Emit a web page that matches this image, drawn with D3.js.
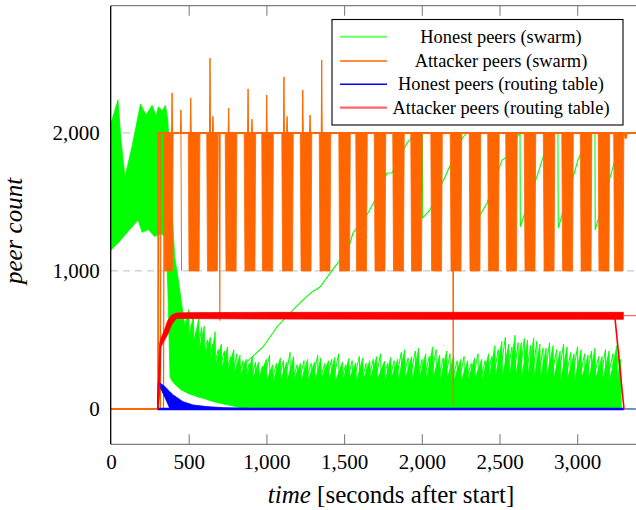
<!DOCTYPE html>
<html><head><meta charset="utf-8">
<script src="https://cdn.jsdelivr.net/npm/d3@7"></script>
<style>
body{margin:0;background:#fff}
svg{display:block}
text{font-family:"Liberation Serif","Times New Roman",serif;fill:#000}
</style>
</head><body>
<svg id="c" width="636" height="510"></svg>
<script>
// ---------------- DATA ----------------
const xTicks = [0, 500, 1000, 1500, 2000, 2500, 3000];
const yTicks = [0, 1000, 2000];
const seriesNames = ["Honest peers (swarm)", "Attacker peers (swarm)", "Honest peers (routing table)", "Attacker peers (routing table)"];

// Honest peers (swarm): top edge before the attack
const honestTopT = [0, 45, 64, 90, 135, 190, 225, 265, 290, 305, 330, 350, 365, 380, 395, 410, 430, 450, 475];
const honestTopV = [2070, 2240, 1950, 1680, 1900, 2210, 2130, 2200, 2120, 2190, 2160, 2200, 2100, 1800, 1400, 1100, 960, 800, 600];
// Honest peers (swarm): sawtooth peaks after the attack
const honestSpikeT = [
 500, 530, 565, 600, 640, 670, 710, 750, 790, 830,
 870, 910, 950, 1000, 1040, 1090, 1130, 1175, 1220, 1265,
 1310, 1350, 1400, 1440, 1490, 1530, 1575, 1620, 1665, 1710,
 1760, 1800, 1845, 1890, 1935, 1980, 2025, 2070, 2115, 2160,
 2205, 2250, 2295, 2340, 2385, 2430, 2470, 2515, 2560, 2600,
 2640, 2680, 2720, 2760, 2800, 2845, 2890, 2935, 2980, 3025,
 3070, 3115, 3160, 3205, 3255, 3280];
const honestSpikePeak = [
 720, 680, 660, 600, 520, 560, 470, 450, 430, 390,
 360, 380, 340, 360, 320, 370, 340, 380, 330, 360,
 340, 370, 350, 375, 340, 365, 335, 370, 350, 380,
 345, 375, 360, 430, 380, 440, 400, 450, 390, 420,
 380, 360, 350, 370, 360, 400, 460, 490, 470, 535,
 480, 500, 515, 470, 440, 460, 420, 450, 400, 430,
 390, 440, 380, 420, 460, 360];
const honestSpikeTrough = [
 520, 480, 430, 400, 350, 330, 300, 280, 260, 240,
 230, 220, 220, 210, 200, 210, 200, 220, 200, 210,
 200, 220, 210, 200, 210, 220, 200, 210, 220, 210,
 200, 220, 210, 220, 210, 220, 210, 230, 210, 220,
 210, 200, 210, 220, 210, 220, 230, 240, 230, 240,
 230, 240, 230, 220, 230, 220, 210, 220, 210, 220,
 210, 220, 210, 200, 200, 0];
// Honest peers (swarm): a second, interleaved set of peers
const honestSpike2T = [
 515, 548, 583, 620, 655, 690, 730, 770, 810, 850,
 890, 930, 975, 1020, 1065, 1110, 1152, 1198, 1242, 1288,
 1330, 1375, 1420, 1465, 1510, 1552, 1598, 1642, 1688, 1735,
 1780, 1822, 1868, 1912, 1958, 2002, 2048, 2092, 2138, 2182,
 2228, 2272, 2318, 2362, 2408, 2450, 2492, 2538, 2580, 2620,
 2660, 2700, 2740, 2780, 2822, 2868, 2912, 2958, 3002, 3048,
 3092, 3138, 3182, 3230, 3268];
const honestSpike2Peak = [
 610, 560, 590, 500, 470, 430, 420, 380, 400, 350,
 330, 340, 310, 390, 330, 350, 410, 320, 350, 330,
 390, 330, 360, 400, 320, 350, 380, 330, 360, 400,
 330, 350, 410, 370, 420, 360, 380, 430, 370, 400,
 350, 380, 330, 400, 350, 380, 430, 520, 450, 480,
 510, 460, 490, 440, 480, 430, 470, 410, 450, 400,
 420, 380, 430, 400, 420];
const honestSpike2Trough = [
 380, 350, 330, 300, 280, 260, 230, 200, 190, 170,
 160, 150, 160, 150, 170, 150, 160, 150, 170, 160,
 150, 170, 160, 150, 160, 170, 150, 160, 150, 170,
 160, 150, 170, 160, 150, 170, 160, 150, 170, 160,
 150, 160, 170, 150, 160, 170, 180, 170, 160, 180,
 170, 160, 170, 160, 170, 160, 150, 170, 160, 170,
 160, 150, 170, 160, 150];
// Honest peers (swarm): lower edge
const honestFloorT = [0, 60, 120, 175, 200, 240, 280, 320, 350, 365, 380, 395, 410, 430, 450, 475, 500, 530, 565, 600, 640, 670, 710, 750, 790, 830, 870, 3290];
const honestFloorV = [1150, 1220, 1300, 1370, 1280, 1300, 1250, 1270, 1250, 900, 230, 200, 180, 160, 140, 125, 110, 100, 85, 75, 60, 50, 40, 30, 20, 10, 5, 5];
// Honest peers (swarm): the one peer that climbs back up
const honestClimbT = [830, 978, 1068, 1152, 1236, 1293, 1345, 1435, 1525, 1557, 1654, 1699, 1776, 1808, 1905, 1924, 1963, 2003, 2006, 2053, 2149, 2265, 2290, 2368, 2372, 2420, 2516, 2548, 2600, 2632, 2634, 2761, 2830, 2876, 2878, 3005, 3082, 3114, 3116, 3256, 3290];
const honestClimbV = [297, 449, 594, 696, 790, 848, 884, 1022, 1152, 1275, 1420, 1514, 1710, 1710, 1928, 1949, 2000, 2000, 1385, 1442, 1681, 1971, 2000, 2000, 1400, 1493, 1804, 1826, 1950, 2000, 1320, 1754, 2000, 2000, 1311, 1804, 2000, 2000, 1297, 1855, 1900];

// Attacker peers (swarm)
const attackerLineAT = [0, 303, 306, 3305, 3312, 3320, 3600];
const attackerLineAV = [0, 0, 2000, 2000, 1960, 2000, 2000];
const attackerLineBT = [0, 318, 321, 698, 700, 702, 2199, 2202, 2205, 3300];
const attackerLineBV = [0, 0, 2000, 2000, 640, 2000, 2000, 30, 2000, 2000];
const attackerLineCT = [0, 338, 342, 3300];
const attackerLineCV = [0, 0, 2000, 2000];
const attackerBand = [1000, 2000];
const stripeStart = [340, 497, 616, 735, 857, 970, 1099, 1218, 1340, 1466, 1575, 1694, 1813, 1929, 2058, 2183, 2305, 2424, 2540, 2659, 2782, 2901, 3020, 3135, 3235];
const stripeEnd   = [400, 572, 690, 810, 931, 1045, 1173, 1292, 1414, 1540, 1649, 1768, 1887, 2003, 2132, 2257, 2379, 2498, 2614, 2733, 2856, 2975, 3094, 3209, 3300];
const attackerSpikeT = [393, 450, 513, 637, 656, 757, 882, 907, 1002, 1113, 1133, 1234, 1281, 1356];
const attackerSpikeV = [2290, 2167, 2253, 2543, 2120, 2180, 2319, 2100, 2275, 2406, 2120, 2311, 2130, 2529];
const attackerGapT = [450];

// Honest peers (routing table)
const honestRtT  = [300, 305, 347, 378, 401, 463, 528, 616, 721, 900, 3300];
const honestRtHi = [0, 198, 162, 125, 101, 53, 29, 17, 9, 4, 3];
const honestRtLo = [0, 185, 83, 5, 0, 0, 0, 0, 0, 0, 0];
const honestRtLineT = [300, 3300];
const honestRtLineV = [0, 0];
const honestRtTailT = [3300, 3600];
const honestRtTailV = [0, 0];

// Attacker peers (routing table)
const attackerRtT  = [300, 304, 312, 322, 340, 365, 390, 420, 500, 1000, 2000, 3000, 3297];
const attackerRtHi = [0, 200, 470, 515, 560, 640, 680, 695, 698, 700, 700, 700, 700];
const attackerRtLo = [0, 0, 100, 450, 490, 540, 610, 655, 655, 652, 650, 650, 650];
const attackerRtDropT = [3243, 3301];
const attackerRtDropV = [660, 0];
const attackerRtTailT = [3297, 3600];
const attackerRtTailV = [676, 676];

// ---------------- DRAW ----------------
const W = 636, H = 510;
const plotLeft = 111, plotTop = 5.7, plotBottom = 444.3;
const svg = d3.select("#c");
const x = d3.scaleLinear().domain([0, 3590]).range([plotLeft, 668.9]);
const y = d3.scaleLinear().domain([-256, 2922]).range([plotBottom, plotTop]);
const line = d3.line().x(d => x(d[0])).y(d => y(d[1]));

const GREEN = "#00ff00", ORANGE = "#ff6600", BLUE = "#0000ff", RED = "#ff0000";

svg.append("defs").append("clipPath").attr("id", "clip")
  .append("rect").attr("x", plotLeft).attr("y", plotTop).attr("width", 600).attr("height", plotBottom - plotTop);

// grid
svg.append("g").selectAll("line").data(yTicks).join("line")
  .attr("x1", plotLeft).attr("x2", W).attr("y1", d => y(d)).attr("y2", d => y(d))
  .attr("stroke", "#cccccc").attr("stroke-width", 1.2).attr("stroke-dasharray", "7,5");

const g = svg.append("g").attr("clip-path", "url(#clip)");

// green swarm body
const topPts = d3.zip(honestTopT, honestTopV);
const spikePts = [];
honestSpikeT.forEach((t, i) => { spikePts.push([t, honestSpikePeak[i]]); spikePts.push([t + 4, honestSpikeTrough[i]]); });
const floorPts = d3.zip(honestFloorT, honestFloorV).reverse();
g.append("path").attr("d", line(topPts.concat(spikePts, floorPts)) + "Z")
  .attr("fill", GREEN).attr("stroke", GREEN).attr("stroke-width", 0.8).attr("stroke-linejoin", "round");
const spike2Pts = [];
honestSpike2T.forEach((t, i) => { spike2Pts.push([t, honestSpike2Peak[i]]); spike2Pts.push([t + 3, honestSpike2Trough[i]]); });
g.append("path").attr("d", line(spike2Pts))
  .attr("fill", "none").attr("stroke", GREEN).attr("stroke-width", 1);
g.append("path").attr("d", line(d3.zip(honestClimbT, honestClimbV)))
  .attr("fill", "none").attr("stroke", GREEN).attr("stroke-width", 1.1);

// orange attacker swarm
g.selectAll("path.stripe").data(d3.zip(stripeStart, stripeEnd)).join("path").attr("class", "stripe")
  .attr("d", d => line([[d[0], attackerBand[1]], [d[1], attackerBand[1]], [d[1] - 5, attackerBand[0]], [d[0] + 5, attackerBand[0]]]) + "Z")
  .attr("fill", ORANGE).attr("stroke", ORANGE).attr("stroke-width", 0.8);
g.selectAll("path.spike").data(d3.zip(attackerSpikeT, attackerSpikeV)).join("path").attr("class", "spike")
  .attr("d", d => line([[d[0] - 3, 2000], [d[0], d[1]], [d[0] + 3, 2000]]) + "Z")
  .attr("fill", ORANGE).attr("stroke", ORANGE).attr("stroke-width", 1);
g.selectAll("line.gap").data(attackerGapT).join("line").attr("class", "gap")
  .attr("x1", d => x(d)).attr("x2", d => x(d + 4)).attr("y1", y(attackerBand[1])).attr("y2", y(attackerBand[0]))
  .attr("stroke", ORANGE).attr("stroke-width", 1);
[[attackerLineAT, attackerLineAV, 2], [attackerLineBT, attackerLineBV, 1.2], [attackerLineCT, attackerLineCV, 1.2]].forEach(([t, v, w]) => {
  g.append("path").attr("d", line(d3.zip(t, v))).attr("fill", "none").attr("stroke", ORANGE).attr("stroke-width", w);
});

// blue routing table
g.append("path").attr("d", d3.area().x(d => x(d[0])).y0(d => y(d[2])).y1(d => y(d[1]))(d3.zip(honestRtT, honestRtHi, honestRtLo)))
  .attr("fill", BLUE).attr("stroke", BLUE).attr("stroke-width", 0.8);
g.append("path").attr("d", line(d3.zip(honestRtLineT, honestRtLineV))).attr("fill", "none").attr("stroke", BLUE).attr("stroke-width", 2.6);
g.append("path").attr("d", line(d3.zip(honestRtTailT, honestRtTailV))).attr("fill", "none").attr("stroke", "#5577aa").attr("stroke-width", 1.4);

// red routing table
g.append("path").attr("d", d3.area().x(d => x(d[0])).y0(d => y(d[2])).y1(d => y(d[1]))(d3.zip(attackerRtT, attackerRtHi, attackerRtLo)))
  .attr("fill", RED).attr("stroke", RED).attr("stroke-width", 0.8);
g.append("path").attr("d", line(d3.zip(attackerRtDropT, attackerRtDropV))).attr("fill", "none").attr("stroke", RED).attr("stroke-width", 1.6);
g.append("path").attr("d", line(d3.zip(attackerRtTailT, attackerRtTailV))).attr("fill", "none").attr("stroke", "#ff6b6b").attr("stroke-width", 1.2);

// axes
const fmt = d3.format(",");
const axB = svg.append("g").attr("transform", `translate(0,${plotBottom})`)
  .call(d3.axisBottom(x).tickValues(xTicks).tickFormat(fmt).tickSize(-10).tickSizeOuter(0).tickPadding(10));
axB.select(".domain").attr("stroke", "#808080").attr("stroke-width", 1.3).attr("d", `M${plotLeft},0H${W}`);
axB.selectAll(".tick line").attr("stroke", "#808080").attr("stroke-width", 1.1);
axB.selectAll("text").attr("font-size", 21).attr("font-family", "Liberation Serif");

const axT = svg.append("g").attr("transform", `translate(0,${plotTop})`)
  .call(d3.axisTop(x).tickValues(xTicks).tickFormat("").tickSize(-10).tickSizeOuter(0));
axT.select(".domain").attr("stroke", "#808080").attr("stroke-width", 1.3).attr("d", `M${plotLeft},0H${W}`);
axT.selectAll(".tick line").attr("stroke", "#808080").attr("stroke-width", 1.1);
axT.selectAll(".tick").filter(d => d === 0).remove();
axB.selectAll(".tick").filter(d => d === 0).select("line").remove();

const axL = svg.append("g").attr("transform", `translate(${plotLeft - 0.3},0)`)
  .call(d3.axisLeft(y).tickValues(yTicks).tickFormat(fmt).tickSize(0).tickPadding(11));
axL.select(".domain").attr("stroke", "#000").attr("stroke-width", 1.3).attr("d", `M0,${plotTop}V${plotBottom}`);
axL.selectAll("text").attr("font-size", 21).attr("font-family", "Liberation Serif");

// axis labels
const xl = svg.append("text").attr("x", 391).attr("y", 503).attr("text-anchor", "middle").attr("font-size", 25);
xl.append("tspan").attr("font-style", "italic").text("time");
xl.append("tspan").text(" [seconds after start]");
svg.append("text").attr("transform", "translate(22,231) rotate(-90)").attr("text-anchor", "middle")
  .attr("font-size", 25).attr("font-style", "italic").text("peer count");

// legend
const leg = svg.append("g");
leg.append("rect").attr("x", 332).attr("y", 19.5).attr("width", 291).attr("height", 105.5)
  .attr("fill", "#fff").attr("stroke", "#000").attr("stroke-width", 1.1);
const legColors = ["#66ff66", ORANGE, BLUE, "#ff6666"];
const legWidths = [2, 1.5, 1.5, 2.2];
const legY = [36.7, 61, 84.3, 107.7];
seriesNames.forEach((n, i) => {
  leg.append("line").attr("x1", 340).attr("x2", 387).attr("y1", legY[i]).attr("y2", legY[i])
    .attr("stroke", legColors[i]).attr("stroke-width", legWidths[i]);
  leg.append("text").attr("x", 501).attr("y", legY[i] + 5.8).attr("text-anchor", "middle").attr("font-size", 18.4).text(n);
});
</script>
</body></html>
